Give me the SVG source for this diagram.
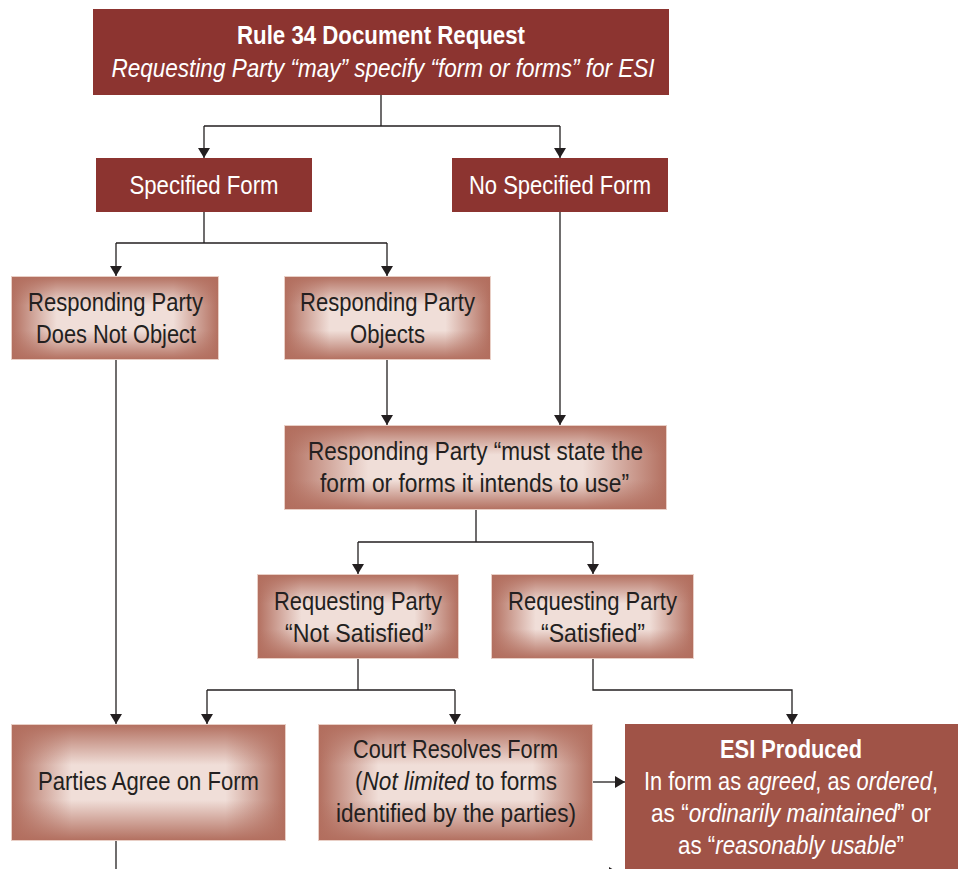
<svg xmlns="http://www.w3.org/2000/svg" width="962" height="869" viewBox="0 0 962 869">
<defs>
<style>
.dark{fill:#8C3430}
.esi{fill:#A05347}
.base{fill:#F0DED8}
.hx{fill:url(#gh)}
.vy{fill:url(#gv)}
.edge{fill:none;stroke:#E9CFC6;stroke-width:1}
text{font-family:"Liberation Sans",Arial,sans-serif;font-size:26px;text-anchor:middle}
.w{fill:#FFFFFF}
.k{fill:#231F20}
.b{font-weight:bold}
.i{font-style:italic}
.conn path{fill:none;stroke:#231F20;stroke-width:1.3}
</style>
<linearGradient id="gh" x1="0" y1="0" x2="1" y2="0">
<stop offset="0" stop-color="#B26E5E" stop-opacity="1"/>
<stop offset="0.22" stop-color="#B26E5E" stop-opacity="0"/>
<stop offset="0.78" stop-color="#B26E5E" stop-opacity="0"/>
<stop offset="1" stop-color="#B26E5E" stop-opacity="1"/>
</linearGradient>
<linearGradient id="gv" x1="0" y1="0" x2="0" y2="1">
<stop offset="0" stop-color="#B26E5E" stop-opacity="1"/>
<stop offset="0.35" stop-color="#B26E5E" stop-opacity="0"/>
<stop offset="0.65" stop-color="#B26E5E" stop-opacity="0"/>
<stop offset="1" stop-color="#B26E5E" stop-opacity="1"/>
</linearGradient>
<marker id="ah" markerUnits="userSpaceOnUse" markerWidth="11" markerHeight="12" refX="10" refY="6" orient="auto" viewBox="0 0 10 12">
<path d="M0,0 L10,6 L0,12 z" fill="#231F20"/>
</marker>
</defs>
<rect width="962" height="869" fill="#FFFFFF"/>

<g class="conn">
<path d="M381,95 V126 M204,126 H560" />
<path d="M204,126 V158" marker-end="url(#ah)"/>
<path d="M560,126 V158" marker-end="url(#ah)"/>
<path d="M204,212 V243 M116,243 H387"/>
<path d="M116,243 V276" marker-end="url(#ah)"/>
<path d="M387,243 V276" marker-end="url(#ah)"/>
<path d="M560,212 V425" marker-end="url(#ah)"/>
<path d="M116,360 V724" marker-end="url(#ah)"/>
<path d="M387,360 V425" marker-end="url(#ah)"/>
<path d="M476,510 V542 M358,542 H593"/>
<path d="M358,542 V574" marker-end="url(#ah)"/>
<path d="M593,542 V574" marker-end="url(#ah)"/>
<path d="M358,659 V690 M207,690 H455"/>
<path d="M207,690 V724" marker-end="url(#ah)"/>
<path d="M455,690 V724" marker-end="url(#ah)"/>
<path d="M593,659 V690 H792 V724" marker-end="url(#ah)"/>
<path d="M593,782 H625" marker-end="url(#ah)"/>
<path d="M116,841 V869"/>
<path d="M590,873 H619" marker-end="url(#ah)"/>
</g>

<g id="rule34">
<rect class="dark" x="93" y="9" width="576" height="86"/>
<text class="w b" x="381" y="44" textLength="288" lengthAdjust="spacingAndGlyphs">Rule 34 Document Request</text>
<text class="w i" x="383" y="77" textLength="543" lengthAdjust="spacingAndGlyphs">Requesting Party “may” specify “form or forms” for ESI</text>
</g>

<g id="specified">
<rect class="dark" x="96" y="158" width="216" height="54"/>
<text class="w" x="204" y="194" textLength="149" lengthAdjust="spacingAndGlyphs">Specified Form</text>
</g>

<g id="nospecified">
<rect class="dark" x="452" y="158" width="216" height="54"/>
<text class="w" x="560" y="194" textLength="182" lengthAdjust="spacingAndGlyphs">No Specified Form</text>
</g>

<g id="notobject">
<rect class="base" x="11" y="276" width="208" height="84"/>
<rect class="hx" x="11" y="276" width="208" height="84"/>
<rect class="vy" x="11" y="276" width="208" height="84"/>
<rect class="edge" x="11.5" y="276.5" width="207" height="83"/>
<text class="k" x="115.5" y="311" textLength="175" lengthAdjust="spacingAndGlyphs">Responding Party</text>
<text class="k" x="116" y="343" textLength="160" lengthAdjust="spacingAndGlyphs">Does Not Object</text>
</g>

<g id="objects">
<rect class="base" x="284" y="276" width="207" height="84"/>
<rect class="hx" x="284" y="276" width="207" height="84"/>
<rect class="vy" x="284" y="276" width="207" height="84"/>
<rect class="edge" x="284.5" y="276.5" width="206" height="83"/>
<text class="k" x="387.5" y="311" textLength="175" lengthAdjust="spacingAndGlyphs">Responding Party</text>
<text class="k" x="387.5" y="343" textLength="75" lengthAdjust="spacingAndGlyphs">Objects</text>
</g>

<g id="muststate">
<rect class="base" x="284" y="425" width="383" height="85"/>
<rect class="hx" x="284" y="425" width="383" height="85"/>
<rect class="vy" x="284" y="425" width="383" height="85"/>
<rect class="edge" x="284.5" y="425.5" width="382" height="84"/>
<text class="k" x="475.5" y="460" textLength="335" lengthAdjust="spacingAndGlyphs">Responding Party “must state the</text>
<text class="k" x="474.5" y="492" textLength="309" lengthAdjust="spacingAndGlyphs">form or forms it intends to use”</text>
</g>

<g id="notsatisfied">
<rect class="base" x="257" y="574" width="202" height="85"/>
<rect class="hx" x="257" y="574" width="202" height="85"/>
<rect class="vy" x="257" y="574" width="202" height="85"/>
<rect class="edge" x="257.5" y="574.5" width="201" height="84"/>
<text class="k" x="358" y="610" textLength="168" lengthAdjust="spacingAndGlyphs">Requesting Party</text>
<text class="k" x="358.5" y="642" textLength="147" lengthAdjust="spacingAndGlyphs">“Not Satisfied”</text>
</g>

<g id="satisfied">
<rect class="base" x="491" y="574" width="203" height="85"/>
<rect class="hx" x="491" y="574" width="203" height="85"/>
<rect class="vy" x="491" y="574" width="203" height="85"/>
<rect class="edge" x="491.5" y="574.5" width="202" height="84"/>
<text class="k" x="592.5" y="610" textLength="169" lengthAdjust="spacingAndGlyphs">Requesting Party</text>
<text class="k" x="593" y="642" textLength="104" lengthAdjust="spacingAndGlyphs">“Satisfied”</text>
</g>

<g id="agree">
<rect class="base" x="11" y="724" width="275" height="117"/>
<rect class="hx" x="11" y="724" width="275" height="117"/>
<rect class="vy" x="11" y="724" width="275" height="117"/>
<rect class="edge" x="11.5" y="724.5" width="274" height="116"/>
<text class="k" x="148.5" y="790" textLength="221" lengthAdjust="spacingAndGlyphs">Parties Agree on Form</text>
</g>

<g id="court">
<rect class="base" x="318" y="724" width="275" height="117"/>
<rect class="hx" x="318" y="724" width="275" height="117"/>
<rect class="vy" x="318" y="724" width="275" height="117"/>
<rect class="edge" x="318.5" y="724.5" width="274" height="116"/>
<text class="k" x="455.5" y="758" textLength="205" lengthAdjust="spacingAndGlyphs">Court Resolves Form</text>
<text class="k" transform="translate(456,790) scale(0.85,1)" x="0" y="0" textLength="237.6" lengthAdjust="spacingAndGlyphs">(<tspan class="i">Not limited</tspan> to forms</text>
<text class="k" x="456" y="822" textLength="240" lengthAdjust="spacingAndGlyphs">identified by the parties)</text>
</g>

<g id="esi">
<rect class="esi" x="625" y="724" width="333" height="150"/>
<text class="w b" x="791" y="758" textLength="142" lengthAdjust="spacingAndGlyphs">ESI Produced</text>
<text class="w" transform="translate(791,790) scale(0.85,1)" x="0" y="0" textLength="345.9" lengthAdjust="spacingAndGlyphs">In form as <tspan class="i">agreed</tspan>, as <tspan class="i">ordered</tspan>,</text>
<text class="w" transform="translate(791,822) scale(0.85,1)" x="0" y="0" textLength="329.4" lengthAdjust="spacingAndGlyphs">as “<tspan class="i">ordinarily maintained</tspan>” or</text>
<text class="w" transform="translate(791,854) scale(0.85,1)" x="0" y="0" textLength="265.9" lengthAdjust="spacingAndGlyphs">as “<tspan class="i">reasonably usable</tspan>”</text>
</g>
</svg>
